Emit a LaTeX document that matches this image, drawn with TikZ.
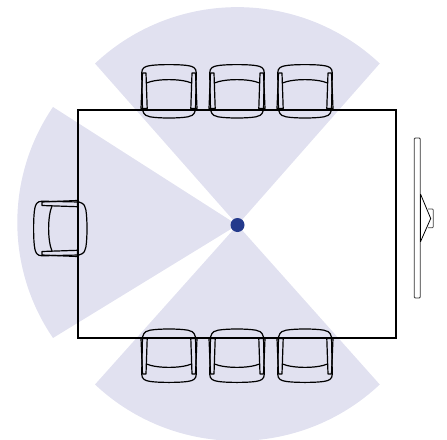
\documentclass[tikz,border=0pt]{standalone}
\definecolor{zone}{HTML}{E1E1F0}
\definecolor{dotblue}{HTML}{243A8C}
\tikzset{
  x=1pt,y=-1pt,
  zonefill/.style={fill=zone,draw=none},
  chairline/.style={draw=black,line width=1.2pt,line join=round},
  chair/.pic={
    \draw[chairline] (-26.5,19) -- (-27.3,-18) .. controls (-27.3,-23) and (-24,-24.6) .. (-20,-25.2) .. controls (-13,-26.8) and (13,-26.8) .. (20,-25.2) .. controls (24,-24.6) and (27.3,-23) .. (27.3,-18) -- (26.5,19) .. controls (25,24.5) and (22,25.3) .. (19,25.8) .. controls (10,27.4) and (-10,27.4) .. (-19,25.8) .. controls (-22,25.3) and (-25,24.5) .. (-26.5,19) -- cycle;
    \draw[chairline] (-22.5,-8) .. controls (-12,-12.5) and (12,-12.5) .. (22.5,-8);
    \draw[chairline] (-26.5,-18) -- (-23,-18) -- (-21.8,17.5) -- (-28,17.5) -- cycle;
    \draw[chairline] (26.5,-18) -- (23,-18) -- (21.8,17.5) -- (28,17.5) -- cycle;
  }
}
\begin{document}
\begin{tikzpicture}
\useasboundingbox (0,0) rectangle (447,439);
\begin{scope}
\clip (0,0) rectangle (447,439);
\coordinate (eye) at (237.5,225);
\coordinate (topl) at (95,63.5);
\coordinate (botl) at (95,384.5);
\coordinate (leftt) at (53,107);
\fill[zonefill] (eye) -- (topl) arc[start angle=133.2,end angle=46.8,radius=208pt] -- cycle;
\fill[zonefill] (eye) -- (botl) arc[start angle=226.8,end angle=313.2,radius=208pt] -- cycle;
\fill[zonefill] (eye) -- (leftt) arc[start angle=145.65,end angle=214.35,radius=204.7pt] -- cycle;
\end{scope}
\draw[line width=1.6pt] (78,110) rectangle (396,338);
\pic at (169,91) {chair};
\pic at (237,91) {chair};
\pic at (305,91) {chair};
\pic[yscale=-1] at (169,356) {chair};
\pic[yscale=-1] at (237,356) {chair};
\pic[yscale=-1] at (305,356) {chair};
\pic[rotate=90] at (60,228.5) {chair};
\fill[dotblue] (eye) circle[radius=7pt];
\draw[black!80,line width=0.8pt,rounded corners=1pt] (414.3,138) rectangle (420.3,298);
\draw[black!75,line width=0.7pt,rounded corners=1pt] (428,209) -- (433.3,209) -- (433.3,227.7) -- (428,227.7);
\draw[black,line width=0.8pt] (420.5,194) -- (430.7,218.5) -- (420.5,241.7);
\draw[black,line width=1.1pt] (420.3,194) -- (420.3,241.7);
\end{tikzpicture}
\end{document}
